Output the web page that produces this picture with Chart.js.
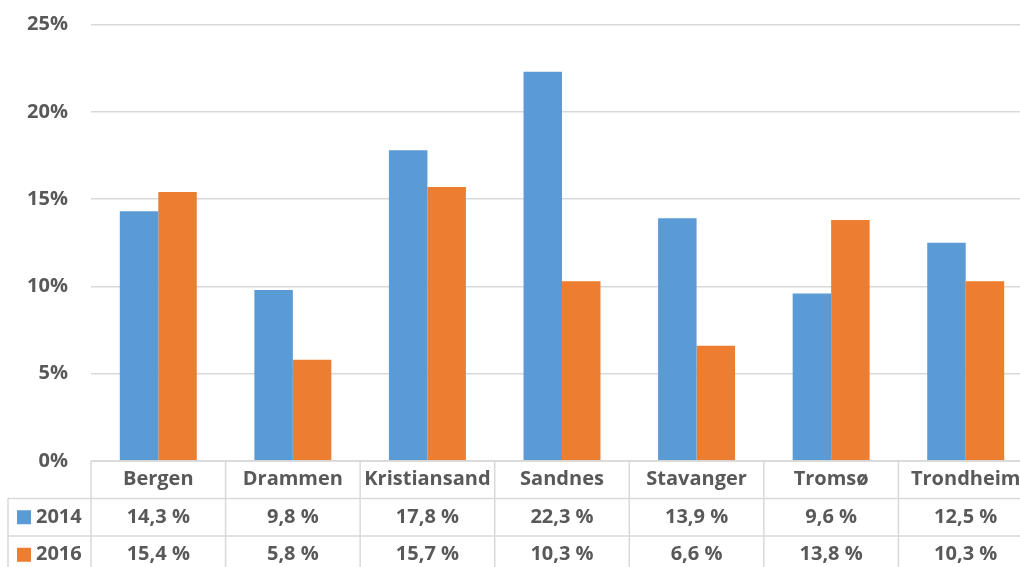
<!DOCTYPE html>
<html>
<head>
<meta charset="utf-8">
<script src="https://cdn.jsdelivr.net/npm/chart.js@4/dist/chart.umd.min.js"></script>
<style>
  html, body { margin: 0; padding: 0; background: #ffffff; overflow: hidden; }
  #wrap { position: relative; width: 1034px; height: 567px; }
</style>
</head>
<body>
<div id="wrap"><canvas id="chart"></canvas></div>
<script>
// Share per city, two survey years
const categories = ['Bergen', 'Drammen', 'Kristiansand', 'Sandnes', 'Stavanger', 'Tromsø', 'Trondheim'];
const seriesNames = ['2014', '2016'];
const values2014 = [14.3, 9.8, 17.8, 22.3, 13.9, 9.6, 12.5];
const values2016 = [15.4, 5.8, 15.7, 10.3, 6.6, 13.8, 10.3];
const yMin = 0;
const yMax = 25;
const yStep = 5;

const COLORS = ['#5B9BD5', '#ED7D31'];
const TEXT = '#595959';
const GRID = '#d9d9d9';
const FONT = '"Open Sans", sans-serif';

const fmtCell = v => v.toFixed(1).replace('.', ',') + ' %';

// Data table under the plot: category header row plus one row per series
const dataTable = {
  id: 'dataTable',
  afterDraw(chart) {
    const ctx = chart.ctx;
    const x = chart.scales.x;
    const area = chart.chartArea;
    const n = categories.length;
    const catW = (x.right - x.left) / n;
    const rowH = 37.5;
    const top = area.bottom;
    const bottom = chart.height;
    const tableLeft = 8;
    const series = [values2014, values2016];

    ctx.save();
    ctx.strokeStyle = GRID;
    ctx.lineWidth = 1.5;
    ctx.beginPath();
    // header top line
    ctx.moveTo(x.left, top);
    ctx.lineTo(chart.width, top);
    // series row lines
    for (let r = 1; r <= series.length; r++) {
      const y = top + r * rowH;
      ctx.moveTo(tableLeft, y);
      ctx.lineTo(chart.width, y);
    }
    // column dividers
    for (let i = 0; i <= n; i++) {
      const xx = x.left + i * catW;
      ctx.moveTo(xx, top);
      ctx.lineTo(xx, bottom);
    }
    // left border of series rows
    ctx.moveTo(tableLeft, top + rowH);
    ctx.lineTo(tableLeft, bottom);
    ctx.stroke();

    ctx.fillStyle = TEXT;
    ctx.font = 'bold 20px ' + FONT;
    ctx.textAlign = 'center';
    ctx.textBaseline = 'middle';
    categories.forEach((c, i) => {
      ctx.fillText(c, x.getPixelForValue(i), top + rowH / 2);
    });
    series.forEach((vals, r) => {
      const cy = top + (r + 1) * rowH + rowH / 2;
      vals.forEach((v, i) => {
        ctx.fillText(fmtCell(v), x.getPixelForValue(i), cy);
      });
      // legend key
      ctx.fillStyle = COLORS[r];
      ctx.fillRect(17, cy - 7, 14, 14);
      ctx.fillStyle = TEXT;
      ctx.textAlign = 'left';
      ctx.fillText(seriesNames[r], 36, cy);
      ctx.textAlign = 'center';
    });
    ctx.restore();
  }
};

new Chart(document.getElementById('chart'), {
  type: 'bar',
  data: {
    labels: categories,
    datasets: [
      { label: seriesNames[0], data: values2014, backgroundColor: COLORS[0] },
      { label: seriesNames[1], data: values2016, backgroundColor: COLORS[1] }
    ]
  },
  options: {
    responsive: true,
    maintainAspectRatio: false,
    animation: false,
    categoryPercentage: 0.572,
    barPercentage: 1.0,
    layout: { padding: { top: 24.5, right: 1, bottom: 106, left: 0 } },
    plugins: {
      legend: { display: false },
      tooltip: { enabled: false }
    },
    scales: {
      x: {
        display: false,
        grid: { display: false }
      },
      y: {
        min: yMin,
        max: yMax,
        ticks: {
          stepSize: yStep,
          padding: 23,
          color: TEXT,
          font: { family: FONT, size: 20, weight: 'bold' },
          callback: v => v + '%'
        },
        grid: { color: GRID, lineWidth: 1.5, drawTicks: false },
        border: { display: false },
        afterFit: s => {
          s.width = 91;
          s.paddingTop = 0;
          s.paddingBottom = 0;
        }
      }
    }
  },
  plugins: [dataTable]
});
</script>
</body>
</html>
